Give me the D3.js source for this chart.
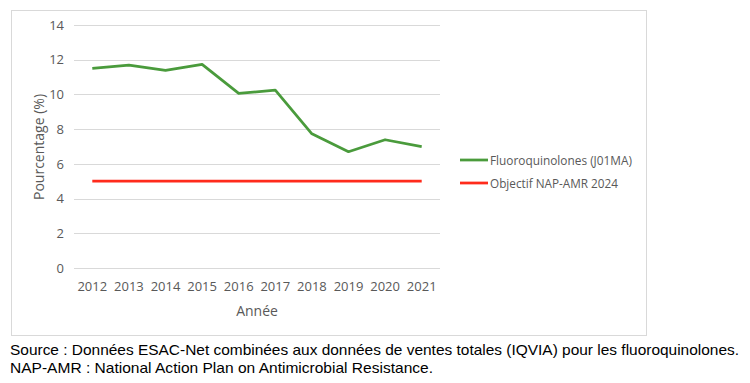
<!DOCTYPE html>
<html>
<head>
<meta charset="utf-8">
<script src="https://cdn.jsdelivr.net/npm/d3@7"></script>
<style>
  body { margin: 0; background: #fff; }
  text { font-family: "Open Sans", "Noto Sans", sans-serif; fill: #595959; }
  .note { font-family: "Liberation Sans", Arial, sans-serif; fill: #000; }
</style>
</head>
<body>
<div id="chart"></div>
<script>
// Data
let years = ["2012", "2013", "2014", "2015", "2016", "2017", "2018", "2019", "2020", "2021"];
let fluoro = [11.5, 11.69, 11.38, 11.73, 10.06, 10.25, 7.73, 6.7, 7.39, 6.99];
let target = [5, 5, 5, 5, 5, 5, 5, 5, 5, 5];
let yTicks = [0, 2, 4, 6, 8, 10, 12, 14];
let seriesNames = ["Fluoroquinolones (J01MA)", "Objectif NAP-AMR 2024"];
let notes = [
  "Source : Données ESAC-Net combinées aux données de ventes totales (IQVIA) pour les fluoroquinolones.",
  "NAP-AMR : National Action Plan on Antimicrobial Resistance."
];

let width = 750;
let height = 383;
let green = "#4a9b3c";
let red = "#ff2b1c";

let svg = d3.select("#chart")
  .append("svg")
  .attr("width", width)
  .attr("height", height);

// chart frame
svg.append("rect")
  .attr("x", 11.5).attr("y", 10.5)
  .attr("width", 635).attr("height", 325)
  .attr("fill", "none")
  .attr("stroke", "#d9d9d9");

// scales
let xScale = d3.scaleBand().domain(years).range([74, 440]);
let yScale = d3.scaleLinear().domain([0, 14]).range([268, 25]);

// gridlines
svg.append("g")
  .selectAll("line")
  .data(yTicks)
  .enter()
  .append("line")
  .attr("x1", 74).attr("x2", 440)
  .attr("y1", d => Math.round(yScale(d)) + 0.5)
  .attr("y2", d => Math.round(yScale(d)) + 0.5)
  .attr("stroke", "#d9d9d9")
  .attr("stroke-width", 1);

// y axis labels
let yAxis = d3.axisLeft(yScale).tickValues(yTicks).tickSize(0).tickPadding(0);
let yG = svg.append("g")
  .attr("transform", "translate(64,0)")
  .call(yAxis);
yG.select(".domain").remove();
yG.selectAll("text").attr("font-size", 13).attr("fill", "#595959")
  .attr("font-family", "Open Sans, sans-serif");

// x axis labels
let xAxis = d3.axisBottom(xScale).tickSize(0).tickPadding(0);
let xG = svg.append("g")
  .attr("transform", "translate(0,282)")
  .call(xAxis);
xG.select(".domain").remove();
xG.selectAll("text").attr("font-size", 13).attr("fill", "#595959")
  .attr("font-family", "Open Sans, sans-serif");

// axis titles
svg.append("text")
  .attr("transform", "translate(44,147)rotate(-90)")
  .attr("text-anchor", "middle")
  .attr("font-size", 14)
  .text("Pourcentage (%)");

svg.append("text")
  .attr("x", 257).attr("y", 316)
  .attr("text-anchor", "middle")
  .attr("font-size", 14)
  .text("Année");

// lines
let line = d3.line()
  .x((d, i) => xScale(years[i]) + xScale.bandwidth() / 2)
  .y(d => yScale(d));

svg.append("path")
  .datum(target)
  .attr("d", line)
  .attr("fill", "none")
  .attr("stroke", red)
  .attr("stroke-width", 2.75);

svg.append("path")
  .datum(fluoro)
  .attr("d", line)
  .attr("fill", "none")
  .attr("stroke", green)
  .attr("stroke-width", 2.75)
  .attr("stroke-linejoin", "round");

// legend
let legendColors = [green, red];
let legend = svg.append("g")
  .selectAll("g")
  .data(seriesNames)
  .enter()
  .append("g")
  .attr("transform", (d, i) => "translate(460," + (160 + i * 23) + ")");

legend.append("line")
  .attr("x1", 0).attr("x2", 28)
  .attr("stroke", (d, i) => legendColors[i])
  .attr("stroke-width", 2.75);

legend.append("text")
  .attr("x", 30).attr("y", 4.5)
  .attr("font-size", 12.5)
  .attr("textLength", (d, i) => i === 0 ? 142 : 128)
  .attr("lengthAdjust", "spacingAndGlyphs")
  .text(d => d);

// footnote
svg.append("g")
  .selectAll("text")
  .data(notes)
  .enter()
  .append("text")
  .attr("class", "note")
  .attr("x", 10)
  .attr("y", (d, i) => 355 + i * 18)
  .attr("font-size", 15)
  .attr("textLength", (d, i) => i === 0 ? 729 : 423)
  .attr("lengthAdjust", "spacingAndGlyphs")
  .text(d => d);
</script>
</body>
</html>
